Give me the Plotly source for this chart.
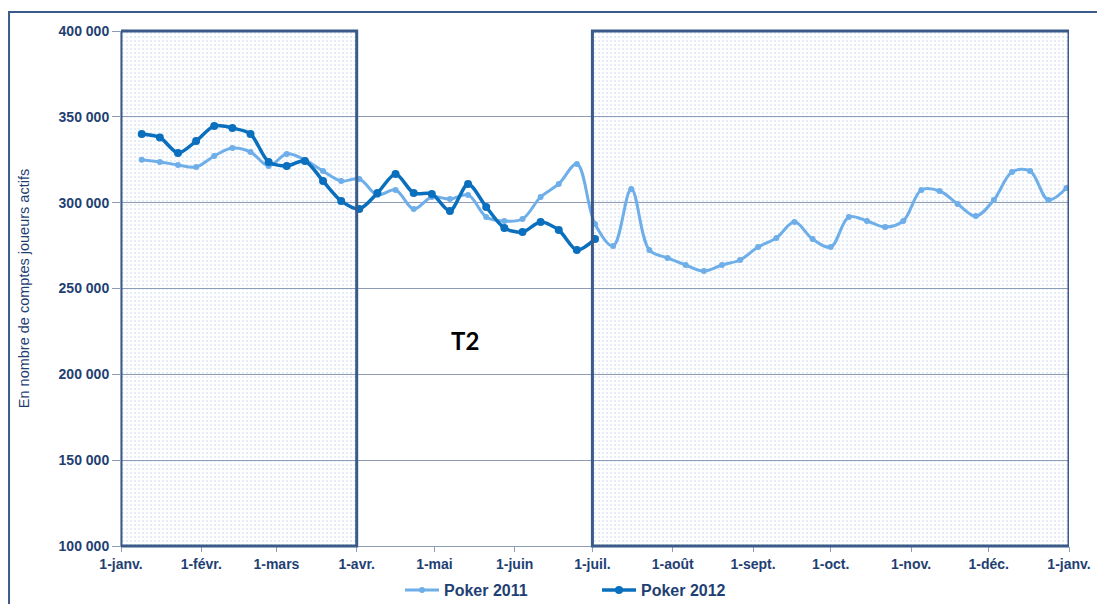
import pandas as pd
import plotly.graph_objects as go

# ---------------- data ----------------
dates_2011 = pd.date_range("2012-01-09", periods=52, freq="7D")
poker_2011 = [325000, 323700, 322000, 320800, 327200, 331800, 329500, 321400, 328400, 324900,
              318400, 312600, 313800, 304500, 307400, 296300, 303300, 302100, 304500, 291700,
              289300, 290500, 303300, 310900, 322500, 287600, 274800, 308000, 272400, 267800,
              263700, 260200, 263700, 266600, 274200, 279400, 288700, 278800, 274200, 291700,
              289300, 285800, 289300, 307400, 306800, 299200, 292200, 301600, 317900, 318400,
              301600, 308500]

dates_2012 = pd.date_range("2012-01-09", periods=26, freq="7D")
poker_2012 = [340000, 338000, 328900, 335900, 344700, 343500, 340000, 323700, 321400, 324300,
              312600, 301000, 296300, 305600, 316700, 305600, 305100, 295200, 310900, 297500,
              285200, 282900, 288700, 284100, 272400, 278800]

# highlighted periods (outside Q2)
period_starts = ["2012-01-01", "2012-07-01"]
period_ends = ["2012-04-01", "2013-01-01"]
y_min, y_max = 100000, 400000

tick_dates = ["2012-01-01", "2012-02-01", "2012-03-01", "2012-04-01", "2012-05-01", "2012-06-01",
              "2012-07-01", "2012-08-01", "2012-09-01", "2012-10-01", "2012-11-01", "2012-12-01",
              "2013-01-01"]
tick_labels = ["1-janv.", "1-févr.", "1-mars", "1-avr.", "1-mai", "1-juin", "1-juil.", "1-août",
               "1-sept.", "1-oct.", "1-nov.", "1-déc.", "1-janv."]
y_ticks = [100000, 150000, 200000, 250000, 300000, 350000, 400000]
y_labels = ["100 000", "150 000", "200 000", "250 000", "300 000", "350 000", "400 000"]

NAVY = "#1f3f73"
BORDER = "#3a5a8a"
GRID = "#8e9cb6"
LIGHT = "#6eaee9"
DARK = "#0a6fbd"

fig = go.Figure()

# dotted shaded periods
for s, e in zip(period_starts, period_ends):
    fig.add_trace(go.Scatter(
        x=[s, e, e, s, s], y=[y_min, y_min, y_max, y_max, y_min],
        mode="lines", fill="toself", fillcolor="rgba(0,0,0,0)",
        fillpattern=dict(shape=".", fgcolor="#6f9bd4", size=4, solidity=0.1),
        line=dict(width=0), showlegend=False, hoverinfo="skip"))
    fig.add_shape(type="rect", xref="x", yref="paper", x0=s, x1=e, y0=0, y1=1,
                  line=dict(color=BORDER, width=3), layer="above")

fig.add_trace(go.Scatter(
    x=dates_2011, y=poker_2011, name="Poker 2011", mode="lines+markers",
    line=dict(color=LIGHT, width=3, shape="spline", smoothing=1.0),
    marker=dict(size=6, color=LIGHT)))
fig.add_trace(go.Scatter(
    x=dates_2012, y=poker_2012, name="Poker 2012", mode="lines+markers",
    line=dict(color=DARK, width=3.5, shape="spline", smoothing=0.8),
    marker=dict(size=8, color=DARK)))

fig.add_annotation(x="2012-05-13", y=220000, text="<b>T2</b>", showarrow=False,
                   font=dict(family="Lato", size=24, color="black"))

# outer frame
fig.add_shape(type="rect", xref="paper", yref="paper", x0=-0.1181, x1=1.2, y0=-0.3, y1=1.0369,
              line=dict(color=BORDER, width=2), layer="below")

fig.update_layout(
    width=1105, height=604,
    margin=dict(l=113, r=44, t=23, b=66, autoexpand=False),
    plot_bgcolor="white", paper_bgcolor="white",
    font=dict(family="Liberation Sans", color=NAVY),
    xaxis=dict(range=["2012-01-01", "2013-01-01"], tickvals=tick_dates, ticktext=tick_labels,
               tickfont=dict(size=14, weight="bold", color=NAVY), showgrid=False,
               showline=True, linecolor=GRID, linewidth=1, ticks="outside", ticklen=5,
               tickcolor=GRID, automargin=False),
    yaxis=dict(range=[y_min, y_max], tickvals=y_ticks, ticktext=y_labels,
               tickfont=dict(size=14, weight="bold", color=NAVY), showgrid=True,
               gridcolor=GRID, gridwidth=1, showline=True, linecolor=GRID, ticks="outside",
               ticklen=8, tickcolor=GRID, zeroline=False, automargin=False,
               title=dict(text="En nombre de comptes joueurs actifs",
                          font=dict(size=14.5, color=NAVY), standoff=25)),
    legend=dict(orientation="h", x=0.2943, xanchor="left", yref="container", y=0.0364,
                yanchor="middle", font=dict(size=16, weight="bold", color=NAVY), itemwidth=34,
                entrywidth=148, entrywidthmode="pixels"),
)

fig.write_html("out.html")
